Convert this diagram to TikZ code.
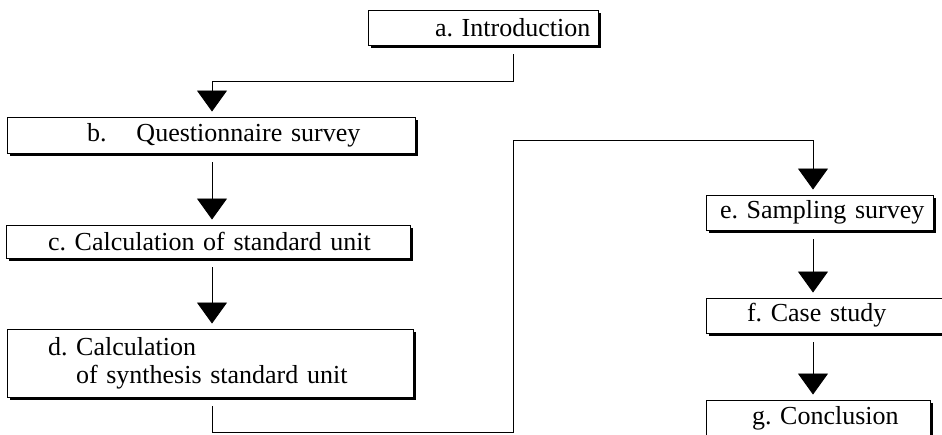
\documentclass[tikz,border=0pt]{standalone}
\usepackage{fontspec}
\setmainfont{Liberation Serif}
\usetikzlibrary{arrows.meta,shadows}
\frenchspacing

\begin{document}
\begin{tikzpicture}[>={Triangle[width=30bp,length=21bp]}, line width=0.9bp,
    stage/.style={draw, fill=white, inner xsep=0pt, inner ysep=0pt, align=left, text width=#1, minimum height=35bp,
      drop shadow={shadow xshift=3bp, shadow yshift=-3bp, opacity=1, fill=black}},
    link/.style={->, shorten <=9bp, shorten >=5bp}]
      \tikzstyle{every node}=[font=\fontsize{26bp}{28bp}\selectfont]
      \useasboundingbox (0,0) rectangle (942bp,435bp);
      %%
  \node (s_a) at (483bp,407.5bp) [stage=230bp] {\hspace*{67bp}a. Introduction};
  \node (s_b) at (211bp,300bp) [stage=408bp, minimum height=36bp] {\hspace*{80bp}b.\hspace{30bp}Questionnaire survey};
  \node (s_c) at (208bp,193.5bp) [stage=404bp, minimum height=33bp] {\hspace*{42bp}c. Calculation of standard unit};
  \node (s_d) at (210bp,72bp) [stage=406bp, minimum height=68bp] {\hspace*{41bp}d. Calculation\\\hspace*{69bp}of synthesis standard unit};
  \node (s_e) at (819.5bp,222.5bp) [stage=227bp] {\hspace*{14bp}e. Sampling survey};
  \node (s_f) at (825bp,119.5bp) [stage=238bp] {\hspace*{41bp}f. Case study};
  \node (s_g) at (818bp,16.5bp) [stage=224bp, minimum height=37bp] {\hspace*{46bp}g. Conclusion};
  \coordinate (lcol) at (212bp,0bp);
  \coordinate (rcol) at (813bp,0bp);
  \coordinate (k1) at (513bp,354bp);
  \coordinate (k2) at (513bp,3bp);
  \coordinate (k3) at (513bp,295bp);
  \draw [link] (s_a.south -| k1) -- (k1) -| (s_b.north -| lcol);
  \draw [link] (s_b.south -| lcol) -- (s_c.north -| lcol);
  \draw [link] (s_c.south -| lcol) -- (s_d.north -| lcol);
  \draw [link] (s_d.south -| lcol) |- (k2) -- (k3) -| (s_e.north -| rcol);
  \draw [link] (s_e.south -| rcol) -- (s_f.north -| rcol);
  \draw [link] (s_f.south -| rcol) -- (s_g.north -| rcol);
%

\end{tikzpicture}
\end{document}
